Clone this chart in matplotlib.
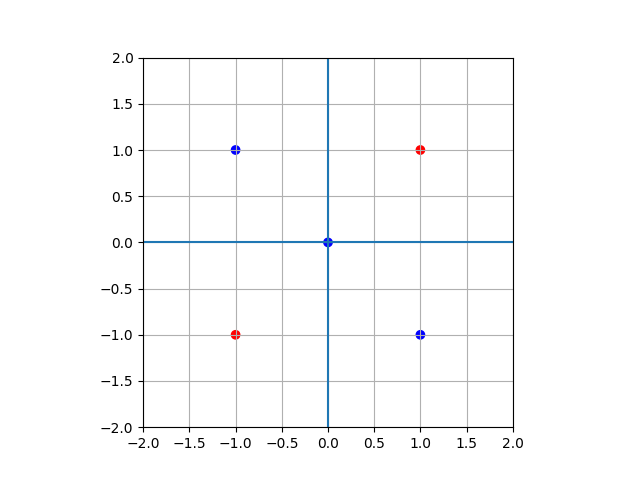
import matplotlib
matplotlib.use("Agg")
import matplotlib.pyplot as plt

# points and their colours
xs = [1, -1, -1, 1, 0]
ys = [1, -1, 1, -1, 0]
colors = ["red", "red", "blue", "blue", "blue"]

fig, ax = plt.subplots(figsize=(6.4, 4.8), dpi=100)
ax.scatter(xs, ys, c=colors)
ax.axhline(0)
ax.axvline(0)
ax.set_xlim(-2, 2)
ax.set_ylim(-2, 2)
ax.set_aspect("equal")
ax.grid(True)
fig.savefig("out.png")
